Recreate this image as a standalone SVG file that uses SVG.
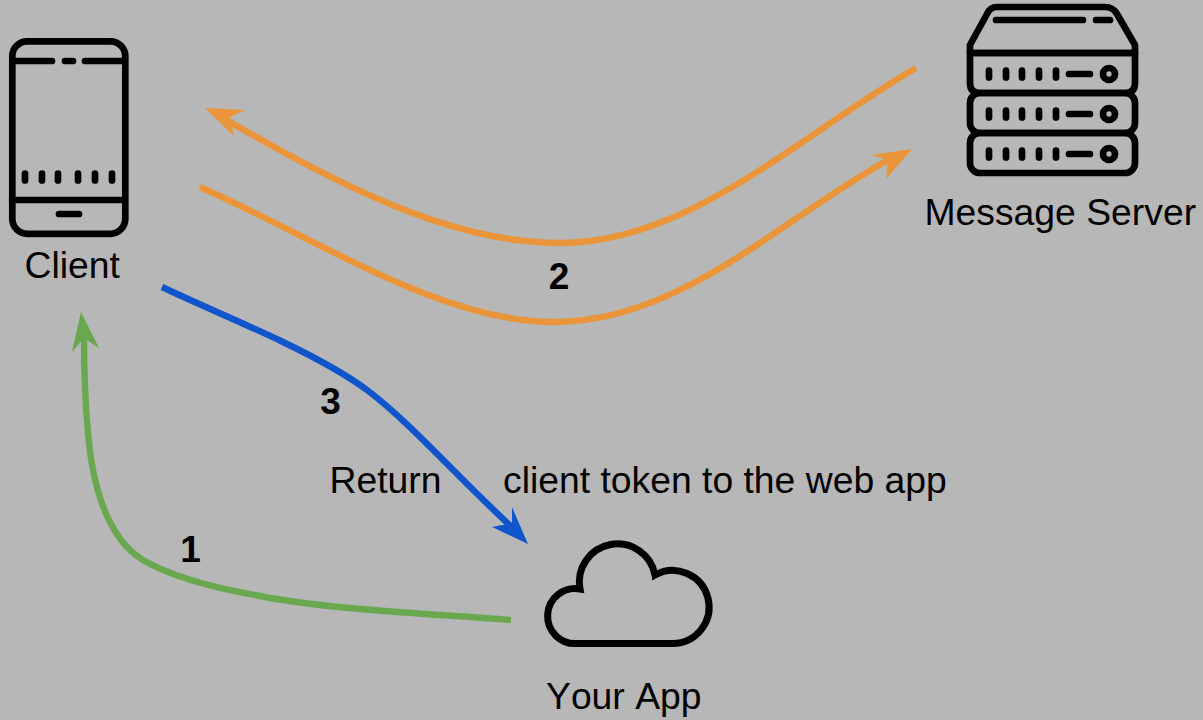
<svg xmlns="http://www.w3.org/2000/svg" width="1203" height="720" viewBox="0 0 1203 720">
<style>
text{font-family:"Liberation Sans",Arial,sans-serif;font-size:37.3px;fill:#000;font-kerning:none}
.n{font-weight:bold;font-size:37px;text-anchor:middle}
.i{fill:none;stroke:#000;stroke-width:6.7;stroke-linecap:round;stroke-linejoin:round}
.c{fill:none;stroke-width:6.4}
</style>
<rect width="1203" height="720" fill="#b7b7b7"/>
<g id="connectors">
<path class="c" stroke="#ea9539" d="M916 68C800 135 690 243 560 243C450 243 340 185 228 121"/>
<polygon fill="#ea9539" points="205,108 245,110 230,117 234,136"/>
<path class="c" stroke="#ea9539" d="M200 187C320 240 440 322 555 322C680 322 780 220 888 160"/>
<polygon fill="#ea9539" points="912,149 886,179 888,160 872,155"/>
<path class="c" stroke="#1155cc" d="M162 287C200 305 250 326 283 342C310 355 340 370 367 390C410 422 465 485 514 529"/>
<polygon fill="#1155cc" points="528,544 492,527 512,523 512,507"/>
<path class="c" stroke="#6aa84f" d="M511 620C420 613 325 609 260 596C220 589 175 579 143 560C105 537 92 480 88 433C85 400 84 370 84 338"/>
<polygon fill="#6aa84f" points="81,312 99,348 84,338 72,352"/>
</g>
<g id="client">
<rect class="i" x="12.3" y="41.3" width="113" height="192.5" rx="15"/>
<path class="i" d="M15 61H52M65 61H73M85 61H122M15 200H122M59 214H79M25 173.5V180.5M42 173.5V180.5M58 173.5V180.5M78 173.5V180.5M95 173.5V180.5M112 173.5V180.5"/>
<text x="24.5" y="278">Client</text>
</g>
<g id="message-server">
<path class="i" d="M970 53V45L987 14Q990 7 997 7H1105Q1113 7 1117 14L1135 45V53Z"/>
<path class="i" d="M970 53H1135V83Q1135 93 1125 93H980Q970 93 970 83Z"/>
<rect class="i" x="970" y="93" width="165" height="40" rx="10"/>
<rect class="i" x="970" y="133" width="165" height="40" rx="10"/>
<path class="i" d="M996 20H1083M1096 20H1110"/>
<path class="i" d="M989 70.5V77.5M1006 70.5V77.5M1022 70.5V77.5M1039 70.5V77.5M1056 70.5V77.5M1069 74H1090M989 110.5V117.5M1006 110.5V117.5M1022 110.5V117.5M1039 110.5V117.5M1056 110.5V117.5M1069 114H1090M989 150.5V157.5M1006 150.5V157.5M1022 150.5V157.5M1039 150.5V157.5M1056 150.5V157.5M1069 154H1090"/>
<circle class="i" cx="1109" cy="74" r="6"/>
<circle class="i" cx="1109" cy="114" r="6"/>
<circle class="i" cx="1109" cy="154" r="6"/>
<text x="924.5" y="225">Message Server</text>
</g>
<g id="your-app">
<path class="i" style="stroke-linejoin:miter;stroke-width:7" d="M577 643.5H672.5A36.5 36.5 0 1 0 655 575A38 38 0 0 0 580 589A27.5 27.5 0 1 0 577 643.5Z"/>
<text x="546" y="709">Your App</text>
</g>
<g id="labels">
<text x="329.5" y="493">Return</text>
<text x="503" y="493">client token to the web app</text>
<text class="n" x="190.5" y="562">1</text>
<text class="n" x="559" y="289">2</text>
<text class="n" x="330.5" y="414">3</text>
</g>
</svg>
